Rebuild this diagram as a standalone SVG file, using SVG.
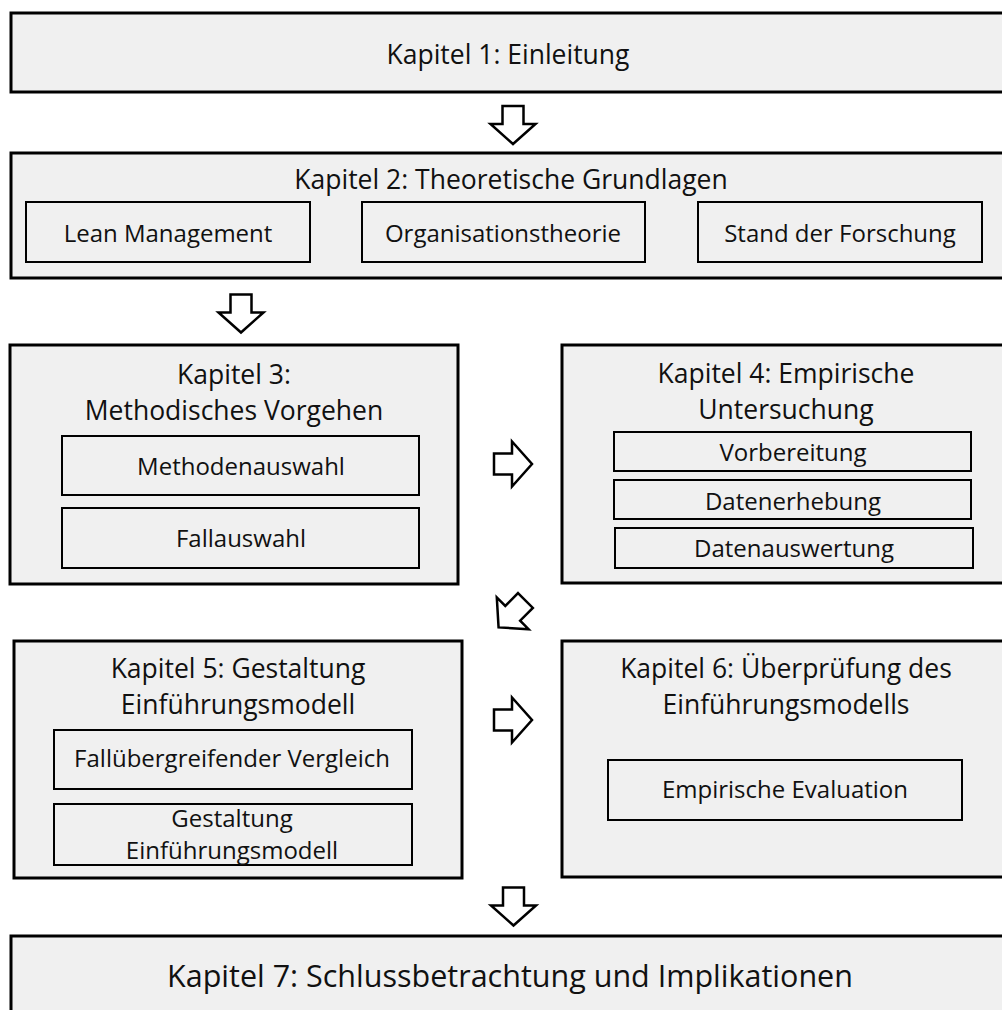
<svg xmlns="http://www.w3.org/2000/svg" xmlns:xlink="http://www.w3.org/1999/xlink" width="1002" height="1010" viewBox="0 0 1002 1010">
<style>
.main{fill:#f0f0f0;stroke:#000;stroke-width:3}
.sub{fill:#f0f0f0;stroke:#000;stroke-width:2}
text{font-family:"Open Sans","Noto Sans","Liberation Sans",sans-serif;fill:#111;text-anchor:middle}
.t{font-size:24px}
.h{font-size:26.5px}
.big{font-size:30.5px}
.arr{fill:#fff;stroke:#000;stroke-width:2.5;stroke-linejoin:miter}
</style>
<defs>
<path id="down" d="M-10.5,-19 H10.5 V-1 H22.5 L0,19 L-22.5,-1 H-10.5 Z"/>
</defs>
<rect width="1002" height="1010" fill="#fff"/>
<g id="k1">
<rect class="main" x="11" y="13" width="1010" height="79"/>
<text class="h" x="508" y="64">Kapitel 1: Einleitung</text>
</g>
<g id="k2">
<rect class="main" x="11" y="153" width="1010" height="125"/>
<text class="h" x="511" y="189">Kapitel 2: Theoretische Grundlagen</text>
<g id="k2a"><rect class="sub" x="26" y="202" width="284" height="60"/><text class="t" x="168" y="242">Lean Management</text></g>
<g id="k2b"><rect class="sub" x="362" y="202" width="283" height="60"/><text class="t" x="503" y="242">Organisationstheorie</text></g>
<g id="k2c"><rect class="sub" x="698" y="202" width="284" height="60"/><text class="t" x="840" y="242">Stand der Forschung</text></g>
</g>
<g id="k3">
<rect class="main" x="10" y="345" width="448" height="239"/>
<text class="h" x="234" y="384">Kapitel 3:</text>
<text class="h" x="234" y="420">Methodisches Vorgehen</text>
<g id="k3a"><rect class="sub" x="62" y="436" width="357" height="59"/><text class="t" x="241" y="475">Methodenauswahl</text></g>
<g id="k3b"><rect class="sub" x="62" y="508" width="357" height="60"/><text class="t" x="241" y="547">Fallauswahl</text></g>
</g>
<g id="k4">
<rect class="main" x="562" y="345" width="460" height="238"/>
<text class="h" x="786" y="383">Kapitel 4: Empirische</text>
<text class="h" x="786" y="419">Untersuchung</text>
<g id="k4a"><rect class="sub" x="614" y="432" width="357" height="39"/><text class="t" x="793" y="461">Vorbereitung</text></g>
<g id="k4b"><rect class="sub" x="614" y="480" width="357" height="39"/><text class="t" x="793" y="510">Datenerhebung</text></g>
<g id="k4c"><rect class="sub" x="615" y="528" width="358" height="40"/><text class="t" x="794" y="557">Datenauswertung</text></g>
</g>
<g id="k5">
<rect class="main" x="14" y="641" width="448" height="237"/>
<text class="h" x="238" y="678">Kapitel 5: Gestaltung</text>
<text class="h" x="238" y="714">Einführungsmodell</text>
<g id="k5a"><rect class="sub" x="54" y="730" width="358" height="59"/><text class="t" x="232" y="767">Fallübergreifender Vergleich</text></g>
<g id="k5b"><rect class="sub" x="54" y="804" width="358" height="61"/><text class="t" x="232" y="827">Gestaltung</text><text class="t" x="232" y="859">Einführungsmodell</text></g>
</g>
<g id="k6">
<rect class="main" x="562" y="641" width="460" height="236"/>
<text class="h" x="786" y="678">Kapitel 6: Überprüfung des</text>
<text class="h" x="786" y="714">Einführungsmodells</text>
<g id="k6a"><rect class="sub" x="608" y="760" width="354" height="60"/><text class="t" x="785" y="798">Empirische Evaluation</text></g>
</g>
<g id="k7">
<rect class="main" x="11" y="936" width="1010" height="90"/>
<text class="big" x="510" y="987">Kapitel 7: Schlussbetrachtung und Implikationen</text>
</g>
<g id="connectors">
<use xlink:href="#down" href="#down" class="arr" transform="translate(513,125)"/>
<use xlink:href="#down" href="#down" class="arr" transform="translate(241,313.5)"/>
<use xlink:href="#down" href="#down" class="arr" transform="translate(513,464) rotate(-90)"/>
<use xlink:href="#down" href="#down" class="arr" transform="translate(512,614) rotate(45)"/>
<use xlink:href="#down" href="#down" class="arr" transform="translate(513,720) rotate(-90)"/>
<use xlink:href="#down" href="#down" class="arr" transform="translate(513.5,906.5)"/>
</g>
</svg>
